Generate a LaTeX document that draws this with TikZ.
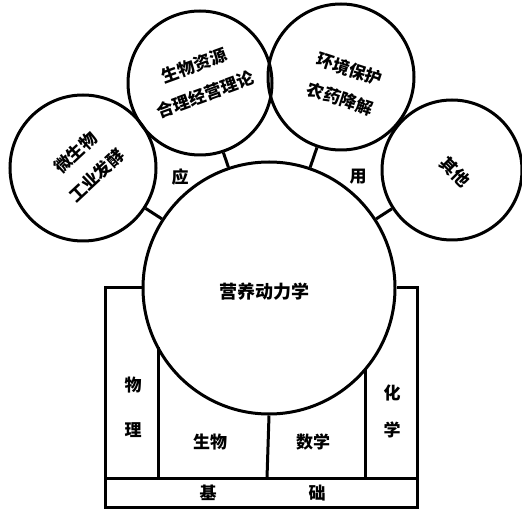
\documentclass[tikz,border=0pt]{standalone}
\usepackage{fontspec}
\newfontfamily\cjk{Noto Sans CJK SC}
\begin{document}
\begin{tikzpicture}[x=1pt,y=-1pt,line width=3pt,
  bubble/.style={circle,draw,inner sep=0pt,minimum size=#1},
  ctext/.style={font=\cjk\bfseries\fontsize{17}{31}\selectfont,align=center,inner sep=0pt},
  lbl/.style={font=\cjk\bfseries\fontsize{17}{20}\selectfont,inner sep=0pt}]
\useasboundingbox (0,0) rectangle (522,518);
% main circle
\node[bubble=252pt] (main) at (269,288) {};
\node[lbl,font=\cjk\bfseries\fontsize{18}{20}\selectfont] (title) at (264,292) {营养动力学};
% application circles
\node[bubble=146pt] (c1) at (83,168) {};
\node[bubble=144pt] (c2) at (200,83) {};
\node[bubble=146pt] (c3) at (341,77) {};
\node[bubble=140pt] (c4) at (452,170) {};
\node[ctext,rotate=43] (t1) at (86,164) {微生物\\工业发酵};
\node[ctext,rotate=20] (t2) at (200,80) {生物资源\\合理经营理论};
\node[ctext,rotate=-18] (t3) at (345,84) {环境保护\\农药降解};
\node[ctext,rotate=-45] (t4) at (455,172) {其他};
\draw (c1) -- (main);
\draw (c2) -- (main);
\draw (c3) -- (main);
\draw (c4) -- (main);
\node[lbl] (ying) at (180,177) {应};
\node[lbl] (yong) at (358,177) {用};
% base structure
\draw (main.west) -- (105,288) -- (105,507) -- (417,507) -- (417,288) -- (main.east);
\draw (105,478) -- (417,478);
\draw (158,478) -- (158,347);
\draw (main.south) -- (267,478);
\draw (365,478) -- (365,369);
\node[lbl] (wu) at (133,385) {物};
\node[lbl] (li) at (133,430) {理};
\node[lbl] (sw) at (210,442) {生物};
\node[lbl] (sx) at (313,442) {数学};
\node[lbl] (hua) at (392,393) {化};
\node[lbl] (xue) at (392,430) {学};
\node[lbl] (ji) at (208,493) {基};
\node[lbl] (chu) at (317,493) {础};
\end{tikzpicture}
\end{document}
